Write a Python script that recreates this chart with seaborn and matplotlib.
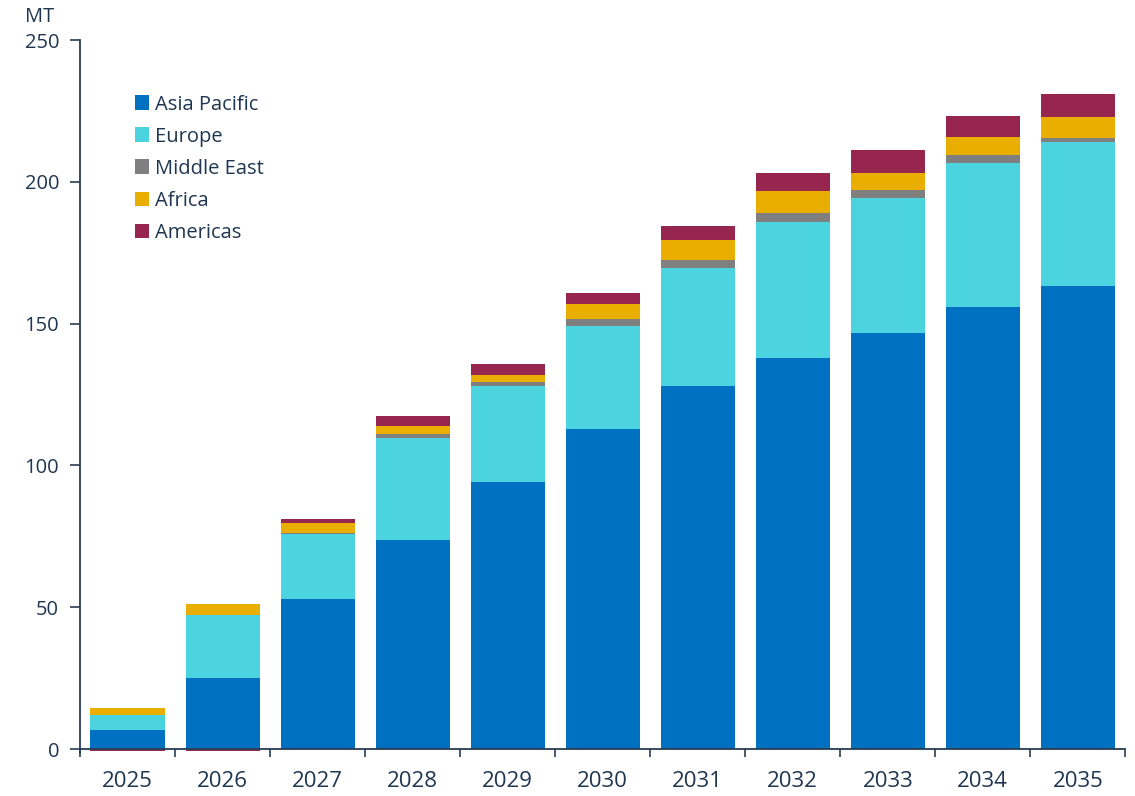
import numpy as np
import pandas as pd
import matplotlib
matplotlib.use("Agg")
import matplotlib.pyplot as plt
from matplotlib.patches import Patch
import seaborn as sns

years = ["2025", "2026", "2027", "2028", "2029", "2030", "2031", "2032", "2033", "2034", "2035"]
asia_pacific = [6.7, 25.0, 52.9, 73.7, 94.1, 112.9, 128.1, 137.9, 146.7, 155.9, 163.3]
europe = [5.4, 22.2, 22.8, 36.1, 34.1, 36.4, 41.6, 47.9, 47.8, 50.8, 50.7]
middle_east = [-0.3, -0.3, 0.6, 1.4, 1.1, 2.4, 2.8, 3.3, 2.7, 2.7, 1.6]
africa = [2.5, 3.9, 3.3, 2.9, 2.7, 5.3, 7.0, 7.7, 6.0, 6.3, 7.2]
americas = [-0.5, -0.5, 1.7, 3.5, 3.9, 4.0, 5.1, 6.3, 8.1, 7.7, 8.2]

series_names = ["Asia Pacific", "Europe", "Middle East", "Africa", "Americas"]
series_values = [asia_pacific, europe, middle_east, africa, americas]
colors = ["#0070C0", "#4BD3DF", "#7F7F7F", "#E9AE00", "#97264F"]

text_color = "#1F3650"
axis_color = "#2A3C52"

sns.set_theme(style="white")
plt.rcParams["font.family"] = ["Open Sans", "DejaVu Sans"]

fig = plt.figure(figsize=(11.35, 7.96), dpi=100)
ax = fig.add_axes([0.0705, 0.0536, 0.921, 0.896])

vals = np.array(series_values, dtype=float)
pos = np.clip(vals, 0, None)
neg = np.clip(vals, None, 0)
pos_cum = np.cumsum(pos, axis=0)
neg_cum = np.cumsum(neg, axis=0)

bar_w = 0.78
# positive stack: draw from top layer down so lower layers overlay
for i in range(len(series_names) - 1, -1, -1):
    if pos[i].sum() == 0:
        continue
    df = pd.DataFrame({"year": years, "value": pos_cum[i]})
    sns.barplot(data=df, x="year", y="value", order=years, color=colors[i],
                width=bar_w, saturation=1, linewidth=0, ax=ax, errorbar=None)
# negative stack
for i in range(len(series_names) - 1, -1, -1):
    if neg[i].sum() == 0:
        continue
    df = pd.DataFrame({"year": years, "value": neg_cum[i]})
    sns.barplot(data=df, x="year", y="value", order=years, color=colors[i],
                width=bar_w, saturation=1, linewidth=0, ax=ax, errorbar=None)

ax.set_xlim(-0.5, len(years) - 0.5)
ax.set_ylim(-1.5, 250)
ax.set_yticks([0, 50, 100, 150, 200, 250])
ax.set_xlabel("")
ax.set_ylabel("")

for s in ["top", "right"]:
    ax.spines[s].set_visible(False)
ax.spines["bottom"].set_position(("data", 0))
ax.spines["left"].set_bounds(-1.5, 250)
for s in ["left", "bottom"]:
    ax.spines[s].set_color(axis_color)
    ax.spines[s].set_linewidth(1.3)

ax.tick_params(axis="y", which="major", direction="out", length=7, width=1.2,
               color=axis_color, labelcolor=text_color, labelsize=14.5, pad=8, left=True)
ax.tick_params(axis="x", which="major", length=0, labelcolor=text_color,
               labelsize=16, pad=16)
ax.set_xticks(np.arange(-0.5, len(years), 1.0), minor=True)
ax.tick_params(axis="x", which="minor", direction="out", length=6, width=1.2,
               color=axis_color, bottom=True)

fig.text(0.022, 0.991, "MT", color=text_color, fontsize=14.5, ha="left", va="top")

handles = [Patch(facecolor=c, edgecolor="none", label=n) for n, c in zip(series_names, colors)]
leg = ax.legend(handles=handles, loc="upper left", bbox_to_anchor=(0.0445, 0.935),
                frameon=False, fontsize=14.5, handlelength=0.72, handleheight=0.72,
                handletextpad=0.3, labelspacing=0.6, borderaxespad=0)
for t in leg.get_texts():
    t.set_color(text_color)

fig.savefig("out.png", dpi=100)
